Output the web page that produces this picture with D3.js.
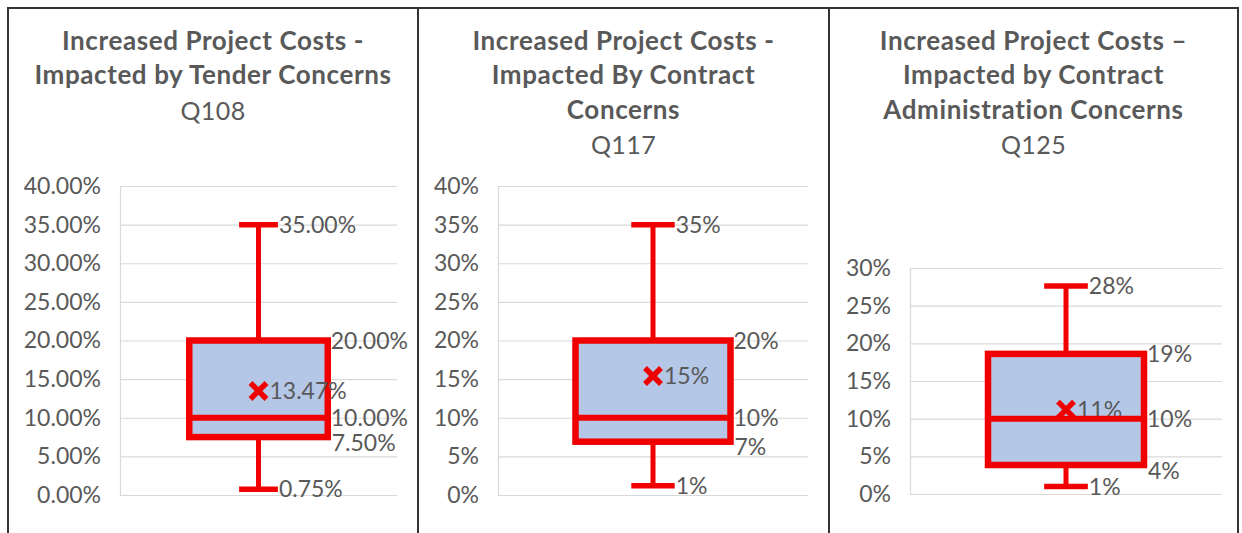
<!DOCTYPE html>
<html>
<head>
<meta charset="utf-8">
<script src="https://cdn.jsdelivr.net/npm/d3@7"></script>
<style>
  html, body { margin: 0; padding: 0; background: #fff; }
  svg { display: block; }
  text { font-family: "Lato", "Open Sans", sans-serif; }
</style>
</head>
<body>
<svg id="chart" width="1242" height="533"></svg>
<script>
// ---- data ----
const panelTitles = [
  ["Increased Project Costs -", "Impacted by Tender Concerns"],
  ["Increased Project Costs -", "Impacted By Contract", "Concerns"],
  ["Increased Project Costs \u2013", "Impacted by Contract", "Administration Concerns"]
];
const questionCodes = ["Q108", "Q117", "Q125"];
const minValues    = [0.0075, 0.012, 0.010];
const q1Values     = [0.075, 0.069, 0.0385];
const medianValues = [0.10, 0.10, 0.10];
const q3Values     = [0.20, 0.20, 0.186];
const maxValues    = [0.35, 0.35, 0.276];
const meanValues   = [0.1347, 0.154, 0.112];
const axisMax      = [0.40, 0.40, 0.30];
const tickValues   = [
  [0, 0.05, 0.10, 0.15, 0.20, 0.25, 0.30, 0.35, 0.40],
  [0, 0.05, 0.10, 0.15, 0.20, 0.25, 0.30, 0.35, 0.40],
  [0, 0.05, 0.10, 0.15, 0.20, 0.25, 0.30]
];
const tickFormats  = [".2%", ".0%", ".0%"];

// ---- layout (positions only) ----
const panels = [
  { x0: 8,   x1: 418,  plotL: 120, plotR: 397,  yBottom: 495, yTop: 186 },
  { x0: 418, x1: 829,  plotL: 498, plotR: 808,  yBottom: 495, yTop: 186 },
  { x0: 829, x1: 1238, plotL: 910, plotR: 1222, yBottom: 494, yTop: 268 }
];
const textColor = "#595959";
const red = "#f00000";
const boxFill = "#b4c7e7";
const gridColor = "#d9d9d9";
const labelSize = 23;

const svg = d3.select("#chart");

panels.forEach((p, i) => {
  const g = svg.append("g");
  const cx = (p.x0 + p.x1) / 2;

  // titles
  const lines = panelTitles[i];
  lines.forEach((t, j) => {
    g.append("text")
      .attr("x", cx).attr("y", 50 + j * 34.3)
      .attr("text-anchor", "middle")
      .attr("font-size", 26).attr("font-weight", 700)
      .attr("letter-spacing", 0.6)
      .attr("fill", textColor)
      .text(t);
  });
  g.append("text")
    .attr("x", cx).attr("y", 51 + lines.length * 34.3)
    .attr("text-anchor", "middle")
    .attr("font-size", 25)
    .attr("letter-spacing", 0.4)
    .attr("fill", textColor)
    .text(questionCodes[i]);

  // scales
  const y = d3.scaleLinear().domain([0, axisMax[i]]).range([p.yBottom, p.yTop]);
  const x = d3.scaleBand().domain([questionCodes[i]]).range([p.plotL, p.plotR]).padding(1 / 3);
  const fmt = d3.format(tickFormats[i]);

  // gridlines
  const grid = d3.axisLeft(y).tickValues(tickValues[i])
    .tickSize(-(p.plotR - p.plotL)).tickFormat("");
  const gg = g.append("g").attr("transform", `translate(${p.plotL},0)`).call(grid);
  gg.selectAll(".tick line").attr("stroke", gridColor).attr("stroke-width", 1.2);
  gg.select(".domain").attr("stroke", gridColor).attr("stroke-width", 1.2);

  // y axis labels
  const ax = d3.axisLeft(y).tickValues(tickValues[i]).tickSize(0).tickPadding(19).tickFormat(fmt);
  const ag = g.append("g").attr("transform", `translate(${p.plotL},0)`).call(ax);
  ag.select(".domain").remove();
  ag.selectAll("text")
    .attr("font-size", labelSize).attr("fill", textColor)
    .style("font-family", '"Lato", "Open Sans", sans-serif');

  // box plot
  const bx = x(questionCodes[i]);
  const bw = x.bandwidth();
  const mx = bx + bw / 2;
  const capHalf = bw * 0.14;

  // whiskers
  g.append("line").attr("x1", mx).attr("x2", mx)
    .attr("y1", y(q3Values[i])).attr("y2", y(maxValues[i]))
    .attr("stroke", red).attr("stroke-width", 5);
  g.append("line").attr("x1", mx).attr("x2", mx)
    .attr("y1", y(q1Values[i])).attr("y2", y(minValues[i]))
    .attr("stroke", red).attr("stroke-width", 5);
  [maxValues[i], minValues[i]].forEach(v => {
    g.append("line").attr("x1", mx - capHalf).attr("x2", mx + capHalf)
      .attr("y1", y(v)).attr("y2", y(v))
      .attr("stroke", red).attr("stroke-width", 5.5);
  });

  // box
  g.append("rect")
    .attr("x", bx).attr("width", bw)
    .attr("y", y(q3Values[i])).attr("height", y(q1Values[i]) - y(q3Values[i]))
    .attr("fill", boxFill).attr("stroke", red).attr("stroke-width", 6.5);

  // labels
  const lab = (xx, v, text) => g.append("text")
    .attr("x", xx).attr("y", y(v)).attr("dy", "0.36em")
    .attr("font-size", labelSize).attr("fill", textColor).text(text);

  // mean label (drawn under the median line)
  const ms = 8;
  lab(mx + ms + 3, meanValues[i], fmt(meanValues[i]));

  g.append("line").attr("x1", bx).attr("x2", bx + bw)
    .attr("y1", y(medianValues[i])).attr("y2", y(medianValues[i]))
    .attr("stroke", red).attr("stroke-width", 6);

  // mean marker
  const my = y(meanValues[i]);
  g.append("path")
    .attr("d", `M${mx - ms},${my - ms}L${mx + ms},${my + ms}M${mx - ms},${my + ms}L${mx + ms},${my - ms}`)
    .attr("stroke", red).attr("stroke-width", 5.5).attr("fill", "none");

  lab(mx + capHalf + 1, maxValues[i], fmt(maxValues[i]));
  lab(mx + capHalf + 1, minValues[i], fmt(minValues[i]));
  lab(bx + bw + 3, q3Values[i], fmt(q3Values[i]));
  lab(bx + bw + 3, medianValues[i], fmt(medianValues[i]));
  lab(bx + bw + 4, q1Values[i], fmt(q1Values[i])).attr("dy", "0.6em");
});

// panel borders
const borderColor = "#333";
svg.append("line").attr("x1", 7).attr("x2", 1239).attr("y1", 8).attr("y2", 8)
  .attr("stroke", borderColor).attr("stroke-width", 2);
[8, 418, 829, 1238].forEach(bxp => {
  svg.append("line").attr("x1", bxp).attr("x2", bxp).attr("y1", 7).attr("y2", 533)
    .attr("stroke", borderColor).attr("stroke-width", 2);
});
</script>
</body>
</html>
